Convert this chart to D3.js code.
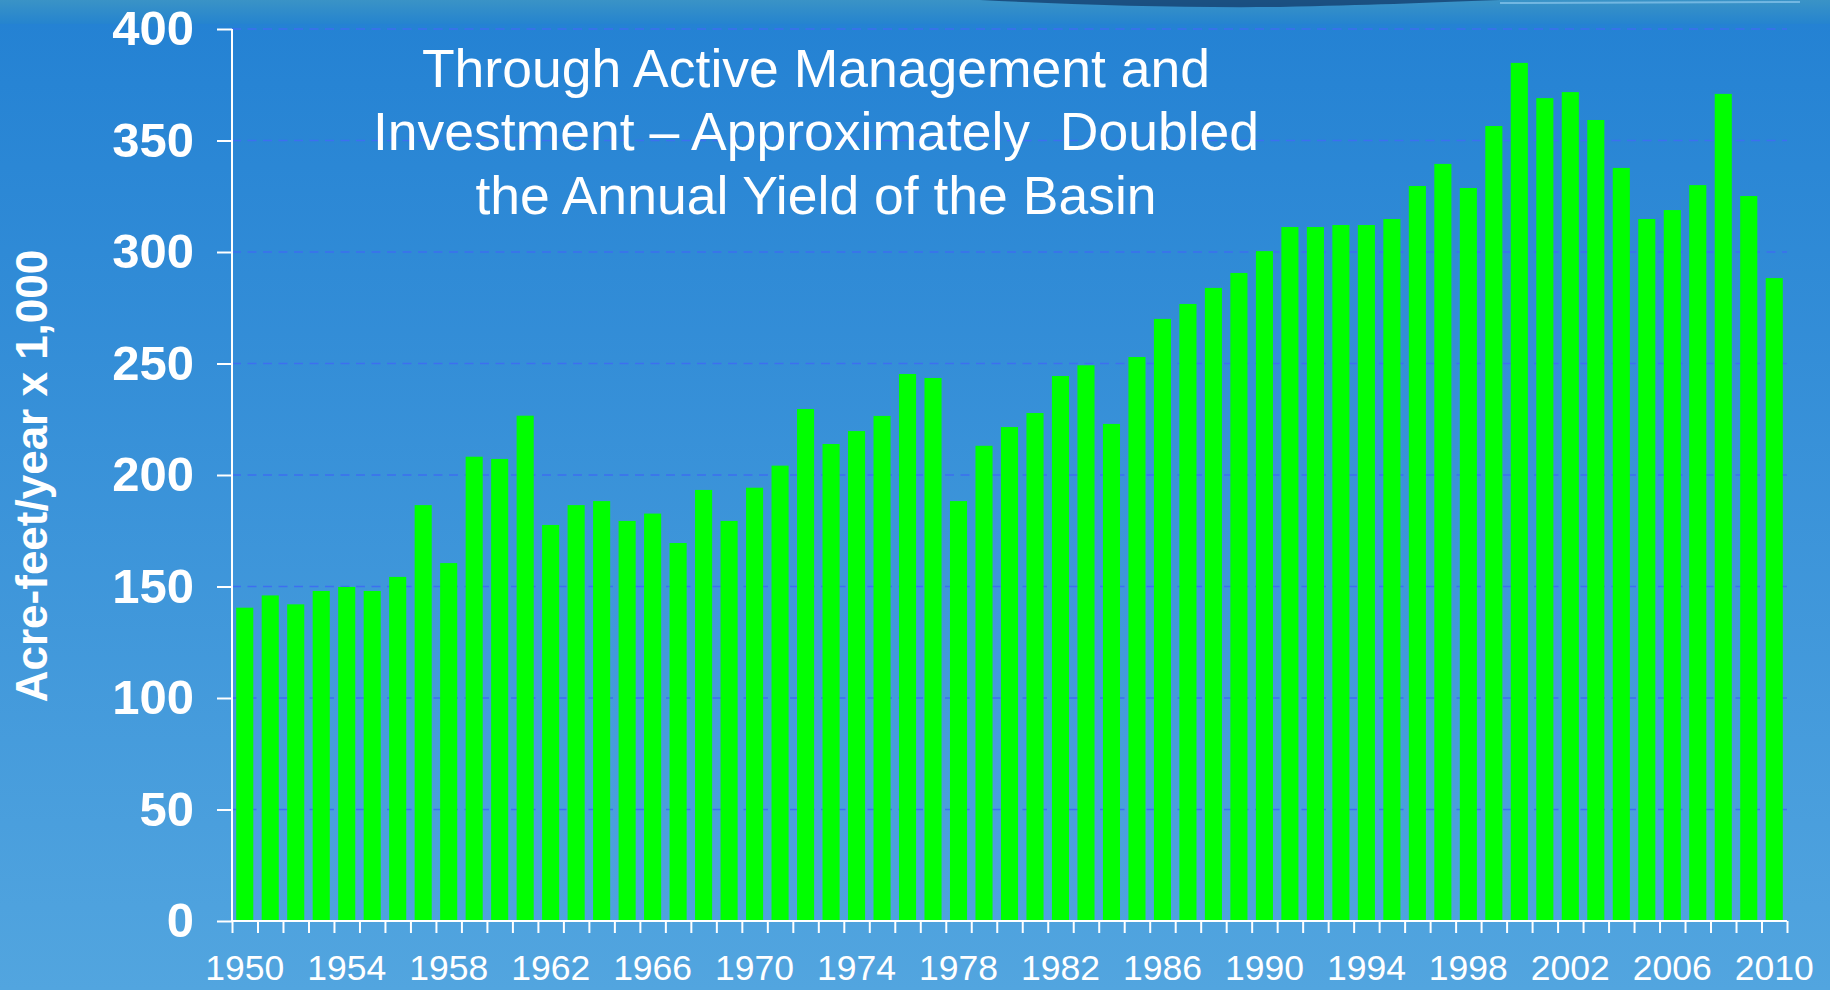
<!DOCTYPE html>
<html>
<head>
<meta charset="utf-8">
<script src="https://cdn.jsdelivr.net/npm/d3@7"></script>
<style>
  html, body { margin: 0; padding: 0; background: #3a90d8; }
  svg { display: block; }
  text { font-family: "Liberation Sans", Arial, sans-serif; fill: #ffffff; }
</style>
</head>
<body>
<svg id="chart" width="1830" height="990"></svg>
<script>
// ---- data ----
const years = d3.range(1950, 2011);
const yieldValues = [
  140.5, 146, 142, 148, 149.8, 148, 154.3, 186.5, 160.5, 208.2,
  207.2, 226.6, 177.6, 186.5, 188.3, 179.4, 182.7, 169.5, 193.3, 179.4,
  194.3, 204.2, 229.6, 213.9, 219.7, 226.5, 245.3, 243.5, 188.3, 213.1,
  221.5, 227.8, 244.4, 249.2, 222.9, 252.9, 270, 276.7, 283.9, 290.6,
  300.4, 311.2, 311.2, 312.1, 312.1, 314.8, 329.6, 339.5, 328.7, 356.5,
  384.8, 369, 371.7, 359.2, 337.7, 314.8, 318.8, 330, 370.9, 325.1,
  288.3
];
const yTicks = [0, 50, 100, 150, 200, 250, 300, 350, 400];
const xLabelYears = d3.range(1950, 2011, 4);
const titleLines = [
  "Through Active Management and",
  "Investment \u2013 Approximately  Doubled",
  "the Annual Yield of the Basin"
];
const yAxisTitle = "Acre-feet/year x 1,000";

// ---- layout ----
const W = 1830, H = 990;
const plotLeft = 232, plotRight = 1787, plotTop = 29, plotBottom = 921;

const svg = d3.select("#chart");
const defs = svg.append("defs");

// background gradient
const bg = defs.append("linearGradient").attr("id", "bg").attr("x1", 0).attr("y1", 0).attr("x2", 0).attr("y2", 1);
bg.append("stop").attr("offset", "0%").attr("stop-color", "#2381d3");
bg.append("stop").attr("offset", "100%").attr("stop-color", "#52a5df");
svg.append("rect").attr("width", W).attr("height", H).attr("fill", "url(#bg)");

// top decorative strip
const strip = defs.append("linearGradient").attr("id", "strip").attr("x1", 0).attr("y1", 0).attr("x2", 0).attr("y2", 1);
strip.append("stop").attr("offset", "0%").attr("stop-color", "#3a93c6");
strip.append("stop").attr("offset", "100%").attr("stop-color", "#2584cf");
svg.append("rect").attr("width", W).attr("height", 24).attr("fill", "url(#strip)");
svg.append("path")
  .attr("d", "M980,0 C1080,5 1180,8 1280,7 C1370,5 1420,3 1500,0 Z")
  .attr("fill", "#123a6a").attr("opacity", 0.75);
svg.append("path")
  .attr("d", "M1500,3 L1800,2")
  .attr("stroke", "#8cc8ee").attr("stroke-width", 2).attr("opacity", 0.7);

// ---- scales ----
const x = d3.scaleBand().domain(years).range([plotLeft, plotRight]).paddingInner(0.33).paddingOuter(0.165);
const xEdge = d3.scaleLinear().domain([1949.5, 2010.5]).range([plotLeft, plotRight]);
const y = d3.scaleLinear().domain([0, 400]).range([plotBottom, plotTop]);

// gridlines
svg.append("g")
  .selectAll("line")
  .data(yTicks.filter(d => d > 0))
  .join("line")
  .attr("x1", plotLeft).attr("x2", plotRight)
  .attr("y1", d => y(d)).attr("y2", d => y(d))
  .attr("stroke", "#3d6ff0").attr("stroke-width", 1.5)
  .attr("stroke-dasharray", "9,6.5");

// bars
svg.append("g")
  .selectAll("rect")
  .data(years.map((yr, i) => ({ yr, v: yieldValues[i] })))
  .join("rect")
  .attr("x", d => x(d.yr))
  .attr("width", x.bandwidth())
  .attr("y", d => y(d.v))
  .attr("height", d => y(0) - y(d.v))
  .attr("fill", "#00ff00");

// y axis
const yAxis = svg.append("g")
  .attr("transform", `translate(${plotLeft},0)`)
  .call(d3.axisLeft(y).tickValues(yTicks).tickSize(15).tickPadding(23).tickFormat(d3.format("d")));
yAxis.selectAll("path, line").attr("stroke", "#ffffff").attr("stroke-width", 2);
yAxis.select(".domain").attr("d", `M0,${plotBottom}V${plotTop}`);
yAxis.selectAll("text")
  .style("font-family", '"Liberation Sans", Arial, sans-serif')
  .style("font-size", "49px").style("font-weight", "bold").attr("fill", "#ffffff");

// x axis ticks at band edges
const xTickAxis = svg.append("g")
  .attr("transform", `translate(0,${plotBottom})`)
  .call(d3.axisBottom(xEdge).tickValues(d3.range(1949.5, 2011, 1)).tickSize(12).tickFormat(""));
xTickAxis.selectAll("path, line").attr("stroke", "#ffffff").attr("stroke-width", 2);
xTickAxis.select(".domain").attr("d", `M${plotLeft},0H${plotRight}`);

// x labels
const xLabelAxis = svg.append("g")
  .attr("transform", `translate(0,${plotBottom})`)
  .call(d3.axisBottom(x).tickValues(xLabelYears).tickSize(0).tickPadding(34));
xLabelAxis.select(".domain").remove();
xLabelAxis.selectAll("text")
  .style("font-family", '"Liberation Sans", Arial, sans-serif')
  .style("font-size", "35.5px").attr("fill", "#ffffff");

// y axis title
svg.append("text")
  .attr("transform", "translate(47,476) rotate(-90)")
  .attr("text-anchor", "middle")
  .style("font-size", "44px").style("font-weight", "bold")
  .text(yAxisTitle);

// chart title
svg.append("g").selectAll("text")
  .data(titleLines)
  .join("text")
  .attr("x", 816)
  .attr("y", (d, i) => 87 + i * 63.3)
  .attr("text-anchor", "middle")
  .style("font-size", "53.5px")
  .style("white-space", "pre")
  .attr("xml:space", "preserve")
  .text(d => d);
</script>
</body>
</html>
